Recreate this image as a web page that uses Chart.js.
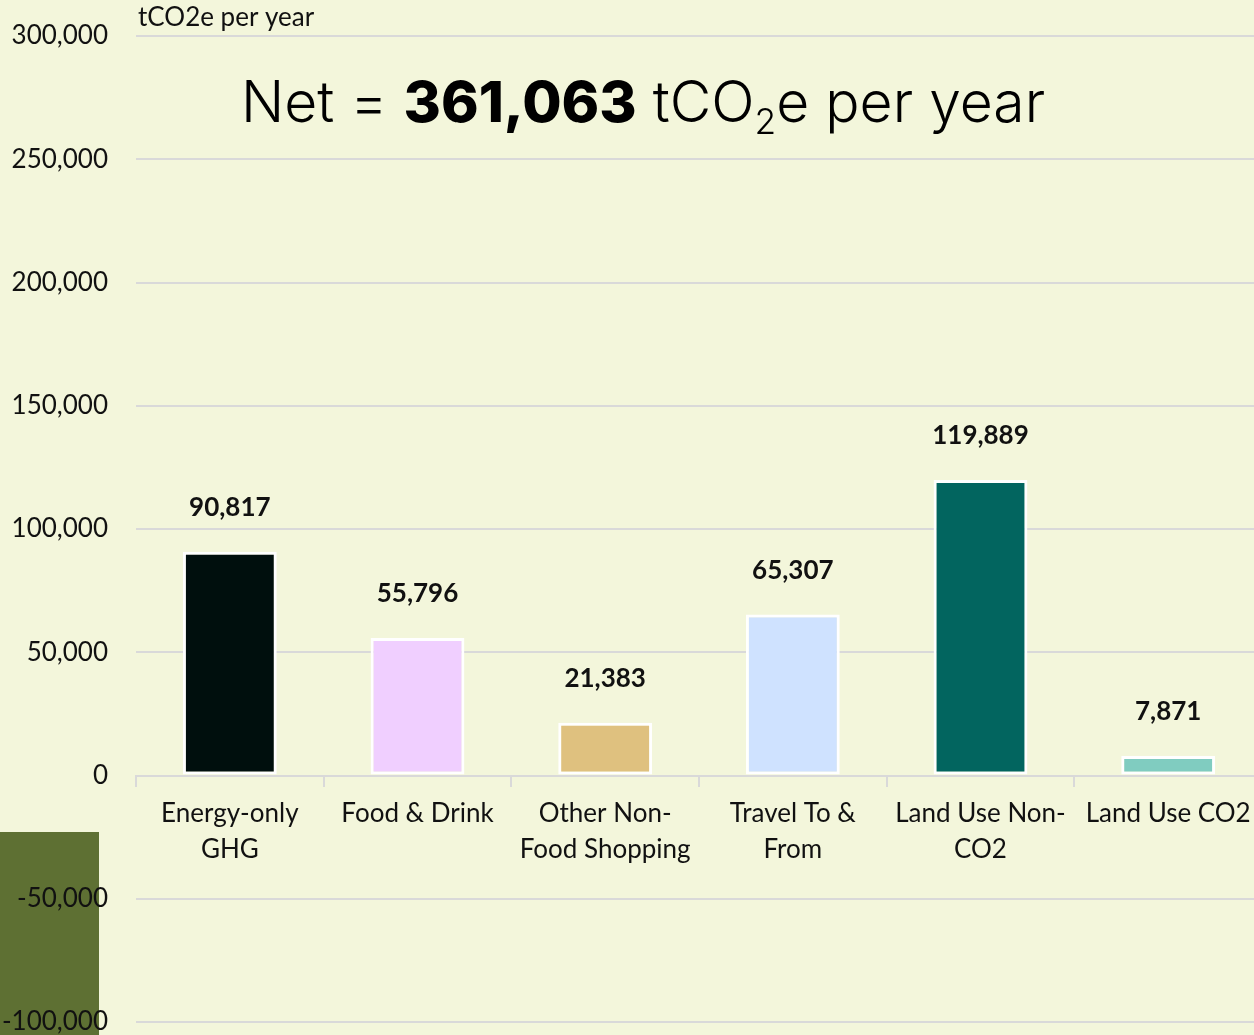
<!DOCTYPE html>
<html>
<head>
<meta charset="utf-8">
<script src="https://cdn.jsdelivr.net/npm/chart.js@4/dist/chart.umd.min.js"></script>
<style>
  html, body { margin: 0; padding: 0; background: #F3F6DB; overflow: hidden; }
  #wrap { width: 1264px; height: 1035px; }
</style>
</head>
<body>
<div id="wrap"><canvas id="emissions-chart" width="1264" height="1035"></canvas></div>
<script>
// values
var categories = [
    ['Energy-only', 'GHG'],
    ['Food & Drink'],
    ['Other Non-', 'Food Shopping'],
    ['Travel To &', 'From'],
    ['Land Use Non-', 'CO2'],
    ['Land Use CO2']
];
var emissions = [90817, 55796, 21383, 65307, 119889, 7871];
var barColors = ['#000F0D', '#F0CFFF', '#DFC17F', '#CFE2FF', '#02655F', '#80CCC0'];
var netTotal = '361,063';
var yMin = -100000;
var yMax = 300000;
var yStep = 50000;

var chartStyle = {
    bg: '#F3F6DB',
    olive: '#5E7033',
    grid: '#D9D9D9',
    text: '#111111',
    font: 'Lato, "Open Sans", sans-serif'
};

var fmt = function (v) {
    return Number(v).toLocaleString('en-US');
};

var backdropPlugin = {
    id: 'backdrop',
    beforeDraw: function (chart) {
        var ctx = chart.ctx;
        ctx.save();
        ctx.fillStyle = chartStyle.bg;
        ctx.fillRect(0, 0, chart.width, chart.height);
        // olive block behind the lower y labels
        ctx.fillStyle = chartStyle.olive;
        ctx.fillRect(0, 832, 99, chart.height - 832);
        ctx.restore();
    }
};

var valueLabelPlugin = {
    id: 'valueLabels',
    afterDatasetsDraw: function (chart) {
        var ctx = chart.ctx;
        var meta = chart.getDatasetMeta(0);
        ctx.save();
        ctx.font = 'bold 26px ' + chartStyle.font;
        ctx.fillStyle = chartStyle.text;
        ctx.textAlign = 'center';
        ctx.textBaseline = 'middle';
        meta.data.forEach(function (bar, i) {
            ctx.fillText(fmt(emissions[i]), bar.x, bar.y - 44);
        });
        ctx.restore();
    }
};

var headingPlugin = {
    id: 'heading',
    afterDraw: function (chart) {
        var ctx = chart.ctx;
        var size = 57;
        var family = 'Inter, "Open Sans", sans-serif';
        var parts = [
            { t: 'Net = ', w: '300', s: size, dy: 0 },
            { t: netTotal, w: '800', s: size, dy: 0 },
            { t: ' tCO', w: '300', s: size, dy: 0 },
            { t: '2', w: '300', s: size * 0.62, dy: 12 },
            { t: 'e per year', w: '300', s: size, dy: 0 }
        ];
        ctx.save();
        ctx.fillStyle = '#000';
        ctx.textBaseline = 'alphabetic';
        ctx.textAlign = 'left';
        var total = 0;
        parts.forEach(function (p) {
            ctx.font = p.w + ' ' + p.s + 'px ' + family;
            p.width = ctx.measureText(p.t).width;
            total += p.width;
        });
        var x = 643 - total / 2;
        parts.forEach(function (p) {
            ctx.font = p.w + ' ' + p.s + 'px ' + family;
            ctx.fillText(p.t, x, 122 + p.dy);
            x += p.width;
        });

        // unit caption at top of y axis
        ctx.font = '26px ' + chartStyle.font;
        ctx.fillStyle = chartStyle.text;
        ctx.textBaseline = 'middle';
        ctx.fillText('tCO2e per year', 138, 18);
        ctx.restore();
    }
};

var ctx = document.getElementById('emissions-chart').getContext('2d');
var emissionsChart = new Chart(ctx, {
    type: 'bar',
    data: {
        labels: categories,
        datasets: [{
            label: 'tCO2e per year',
            data: emissions,
            backgroundColor: barColors,
            borderColor: '#FFFFFF',
            borderWidth: 3,
            borderSkipped: false,
            barPercentage: 0.5,
            categoryPercentage: 1.0
        }]
    },
    options: {
        responsive: false,
        animation: false,
        layout: {
            padding: { top: 36, bottom: 13, right: 2, left: 0 }
        },
        plugins: {
            legend: { display: false },
            tooltip: { enabled: false }
        },
        scales: {
            x: {
                position: { y: 0 },
                grid: {
                    offset: true,
                    drawOnChartArea: false,
                    drawTicks: true,
                    tickLength: 10,
                    color: chartStyle.grid,
                    lineWidth: 2
                },
                border: { color: chartStyle.grid, width: 2 },
                ticks: {
                    color: chartStyle.text,
                    font: { family: chartStyle.font, size: 26, lineHeight: 1.38 },
                    padding: 10,
                    maxRotation: 0,
                    autoSkip: false
                }
            },
            y: {
                min: yMin,
                max: yMax,
                afterFit: function (scale) {
                    scale.width = 136;
                },
                grid: {
                    color: chartStyle.grid,
                    lineWidth: 2,
                    drawTicks: true,
                    tickLength: 28,
                    tickColor: 'rgba(0,0,0,0)'
                },
                border: { display: false },
                ticks: {
                    stepSize: yStep,
                    padding: 0,
                    color: chartStyle.text,
                    font: { family: chartStyle.font, size: 26, lineHeight: 1 },
                    callback: function (v) { return fmt(v); }
                }
            }
        }
    },
    plugins: [backdropPlugin, valueLabelPlugin, headingPlugin]
});
</script>
</body>
</html>
